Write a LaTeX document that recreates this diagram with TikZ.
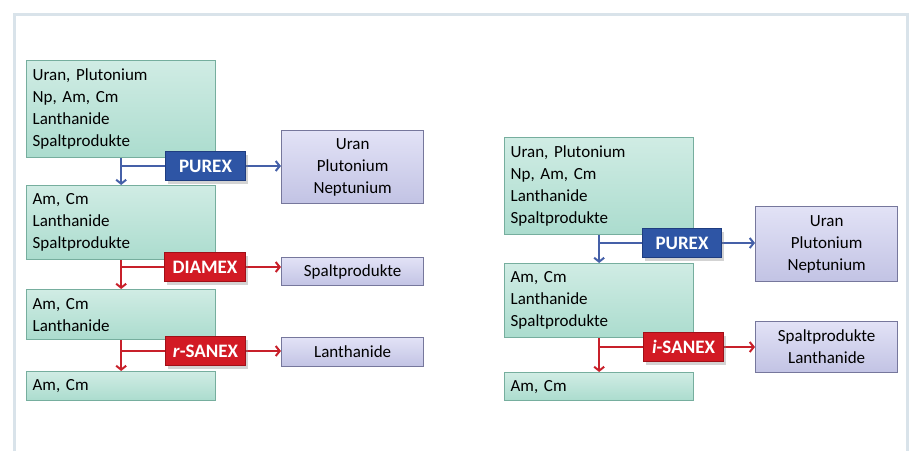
\documentclass[tikz,border=0pt]{standalone}
\usepackage{fontspec}
\setmainfont{Carlito}
\usetikzlibrary{arrows.meta,shadows}

\definecolor{feedtop}{HTML}{D0ECE4}
\definecolor{feedbot}{HTML}{ABDCCE}
\definecolor{feedline}{HTML}{76AE9E}
\definecolor{prodtop}{HTML}{E2E2F6}
\definecolor{prodbot}{HTML}{C2C3E4}
\definecolor{prodline}{HTML}{76779C}
\definecolor{purexfill}{HTML}{2E55A5}
\definecolor{purexline}{HTML}{1F3D80}
\definecolor{sanexfill}{HTML}{D21A24}
\definecolor{sanexline}{HTML}{A01018}
\definecolor{bluearrow}{HTML}{4560A8}
\definecolor{redarrow}{HTML}{C8202A}
\definecolor{framecol}{HTML}{D9E3EA}

\pgfdeclarelayer{background}
\pgfsetlayers{background,main}

\tikzset{
  feed/.style={draw=feedline, line width=1.3pt, top color=feedtop, bottom color=feedbot,
    anchor=north west, align=left, text width=177pt, inner xsep=6pt, inner ysep=0pt,
    font=\fontsize{17}{22}\selectfont},
  prod/.style={draw=prodline, line width=1.3pt, top color=prodtop, bottom color=prodbot,
    anchor=north west, align=center, minimum width=142pt, inner sep=0pt,
    font=\fontsize{17}{22}\selectfont},
  proc/.style={line width=1pt, text=white, anchor=north west, minimum height=29pt,
    inner sep=0pt, font=\fontsize{19}{22}\selectfont\bfseries,
    drop shadow={shadow xshift=2pt, shadow yshift=-3pt, opacity=0.35}},
  purex/.style={proc, draw=purexline, fill=purexfill},
  sanex/.style={proc, draw=sanexline, fill=sanexfill},
  bluearr/.style={draw=bluearrow, line width=2pt},
  redarr/.style={draw=redarrow, line width=2pt},
  tip/.style={-{Straight Barb[length=4pt, width=10pt]}}
}

\begin{document}
\begin{tikzpicture}[x=1pt, y=-1pt]
\useasboundingbox (0,0) rectangle (910,451);

% Frame
\draw[framecol, line width=3pt] (14.5,451) -- (14.5,14.5) -- (907.5,14.5) -- (907.5,451);

% Left scheme: feed boxes
\node[feed, minimum height=97pt] (A1) at (26,60) {Uran, Plutonium\\Np, Am, Cm\\Lanthanide\\Spaltprodukte};
\node[feed, minimum height=74pt] (A2) at (26,185) {Am, Cm\\Lanthanide\\Spaltprodukte};
\node[feed, minimum height=50pt] (A3) at (26,289) {Am, Cm\\Lanthanide};
\node[feed, minimum height=29pt] (A4) at (26,371) {Am, Cm};

% Left scheme: products
\node[prod, minimum height=73pt] (B1) at (281,130) {Uran\\Plutonium\\Neptunium};
\node[prod, minimum height=28pt] (B2) at (281,257) {Spaltprodukte};
\node[prod, minimum height=29pt] (B3) at (281,337) {Lanthanide};

% Right scheme: feed boxes
\node[feed, minimum height=97pt] (C1) at (504,137) {Uran, Plutonium\\Np, Am, Cm\\Lanthanide\\Spaltprodukte};
\node[feed, minimum height=74pt] (C2) at (504,263) {Am, Cm\\Lanthanide\\Spaltprodukte};
\node[feed, minimum height=28pt] (C3) at (504,372) {Am, Cm};

% Right scheme: products
\node[prod, minimum height=75pt] (D1) at (755,206) {Uran\\Plutonium\\Neptunium};
\node[prod, minimum height=51pt] (D2) at (755,321) {Spaltprodukte\\Lanthanide};

% Process labels
\node[purex, minimum width=80pt] (purexA) at (165,151) {PUREX};
\node[sanex, minimum width=81pt] (diamex) at (164,252) {DIAMEX};
\node[sanex, minimum width=80pt] (rsanex) at (165,336) {\textit{r}-SANEX};
\node[purex, minimum width=79pt] (purexB) at (642,228) {PUREX};
\node[sanex, minimum width=80pt] (isanex) at (643,332) {\textit{i}-SANEX};

% Connectors, behind the labels
\begin{pgfonlayer}{background}
\draw[bluearr, tip] (A1.south) -- (A2.north);
\draw[redarr, tip] (A2.south) -- (A3.north);
\draw[redarr, tip] (A3.south) -- (A4.north);
\draw[bluearr, tip] (C1.south) -- (C2.north);
\draw[redarr, tip] (C2.south) -- (C3.north);

\draw[bluearr] (A1.south |- purexA) -- (purexA.west);
\draw[bluearr, tip] (purexA.east) -- (purexA.east -| B1.west);
\draw[redarr] (A2.south |- diamex) -- (diamex.west);
\draw[redarr, tip] (diamex.east) -- (diamex.east -| B2.west);
\draw[redarr] (A3.south |- rsanex) -- (rsanex.west);
\draw[redarr, tip] (rsanex.east) -- (rsanex.east -| B3.west);
\draw[bluearr] (C1.south |- purexB) -- (purexB.west);
\draw[bluearr, tip] (purexB.east) -- (purexB.east -| D1.west);
\draw[redarr] (C2.south |- isanex) -- (isanex.west);
\draw[redarr, tip] (isanex.east) -- (isanex.east -| D2.west);
\end{pgfonlayer}
\end{tikzpicture}
\end{document}
